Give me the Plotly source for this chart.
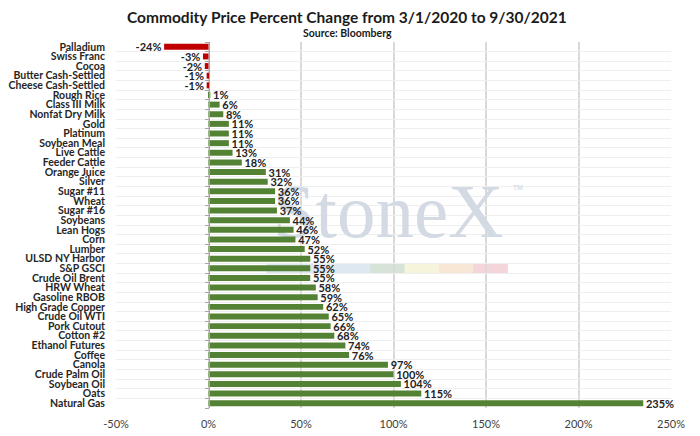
import plotly.graph_objects as go

# Percent change 3/1/2020 -> 9/30/2021, top to bottom as in the chart
commodities = [
    "Palladium", "Swiss Franc", "Cocoa", "Butter Cash-Settled", "Cheese Cash-Settled",
    "Rough Rice", "Class III Milk", "Nonfat Dry Milk", "Gold", "Platinum",
    "Soybean Meal", "Live Cattle", "Feeder Cattle", "Orange Juice", "Silver",
    "Sugar #11", "Wheat", "Sugar #16", "Soybeans", "Lean Hogs", "Corn", "Lumber",
    "ULSD NY Harbor", "S&P GSCI", "Crude Oil Brent", "HRW Wheat", "Gasoline RBOB",
    "High Grade Copper", "Crude Oil WTI", "Pork Cutout", "Cotton #2",
    "Ethanol Futures", "Coffee", "Canola", "Crude Palm Oil", "Soybean Oil",
    "Oats", "Natural Gas",
]
pct_change = [
    -24, -3, -2, -1, -1,
    1, 6, 8, 11, 11,
    11, 13, 18, 31, 32,
    36, 36, 37, 44, 46, 47, 52,
    55, 55, 55, 58, 59,
    62, 65, 66, 68,
    74, 76, 97, 100, 104,
    115, 235,
]
x_ticks = [-50, 0, 50, 100, 150, 200, 250]
x_tick_labels = ["-50%", "0%", "50%", "100%", "150%", "200%", "250%"]

GREEN = "#548235"
RED = "#c00000"
FONT = "Lato"

colors = [RED if v < 0 else GREEN for v in pct_change]
labels = [f"{v}% " if v < 0 else f" {v}%" for v in pct_change]
n = len(commodities)

fig = go.Figure()

# watermark lives on the base (hidden) subplot so the bars draw over it
fig.add_trace(go.Scatter(
    x=[0.4905], y=[0.519], mode="text", text=["StoneX"],
    textfont=dict(family="Liberation Serif", size=77, color="#d3dae3"),
    hoverinfo="skip", showlegend=False,
))
fig.add_trace(go.Scatter(
    x=[0.724], y=[0.601], mode="text", text=["TM"],
    textfont=dict(family="Liberation Sans", size=7, color="#c9d1dc"),
    hoverinfo="skip", showlegend=False,
))

fig.add_trace(go.Bar(
    x=pct_change, y=commodities, orientation="h", xaxis="x2", yaxis="y2",
    marker=dict(color=colors, line=dict(width=0)),
    text=labels, textposition="outside", constraintext="none", cliponaxis=False,
    textfont=dict(family=FONT, size=11, color="#222222", weight="bold"),
    hoverinfo="skip",
))
# invisible trace to carry the axis drawn at 0
fig.add_trace(go.Scatter(
    x=pct_change, y=commodities, xaxis="x2", yaxis="y3", mode="markers",
    marker=dict(opacity=0), hoverinfo="skip", showlegend=False,
))

# the page body adds 8px on the top and left, so the figure is 8px smaller
fig.update_layout(
    width=692, height=428,
    margin=dict(l=108, r=29, t=34, b=28),
    plot_bgcolor="white", paper_bgcolor="white",
    showlegend=False, bargap=0.38,
    font=dict(family=FONT, color="#404040"),
    xaxis=dict(range=[0, 1], visible=False, showgrid=False, zeroline=False),
    yaxis=dict(range=[0, 1], visible=False, showgrid=False, zeroline=False),
    xaxis2=dict(
        overlaying="x", anchor="y2", side="bottom",
        range=[-50, 250], tickvals=x_ticks, ticktext=x_tick_labels,
        showgrid=True, gridcolor="#d9d9d9", gridwidth=1.5,
        zeroline=False, showline=False, ticks="", automargin=False,
        tickfont=dict(size=11, color="#404040"), ticklabelstandoff=8,
    ),
    yaxis2=dict(
        overlaying="y", anchor="x2", side="left",
        type="category", range=[n - 0.5, -0.5], automargin=False,
        tickmode="array", tickvals=commodities, ticktext=commodities,
        showgrid=True, gridcolor="#efefef", gridwidth=1, tickson="boundaries",
        ticks="", showline=False, ticklabelstandoff=10,
        tickfont=dict(size=10.5, color="#262626", weight="bold"),
    ),
    yaxis3=dict(
        type="category", range=[n - 0.5, -0.5], overlaying="y", automargin=False,
        anchor="free", position=(0 + 50) / 300, side="left",
        showline=True, linecolor="#a6a6a6", linewidth=1,
        ticks="outside", ticklen=4, tickcolor="#a6a6a6", tickson="boundaries",
        tickmode="array", tickvals=commodities,
        showticklabels=False, showgrid=False,
    ),
)

# title and source
fig.add_annotation(
    text="Commodity Price Percent Change from 3/1/2020 to 9/30/2021",
    xref="paper", yref="paper", x=0.4166, y=1.068, yanchor="middle", showarrow=False,
    font=dict(family=FONT, size=15.5, color="#1a1a1a", weight="bold"),
)
fig.add_annotation(
    text="Source: Bloomberg", xref="paper", yref="paper", x=0.4166, y=1.0246,
    yanchor="middle", showarrow=False,
    font=dict(family=FONT, size=10.5, color="#1a1a1a", weight="bold"),
)

strip = [
    (0.2714, 0.4571, "#dde8f1"), (0.4571, 0.5203, "#d6e3d6"),
    (0.5203, 0.5816, "#f6f4da"), (0.5816, 0.6429, "#f8e7d4"),
    (0.6429, 0.7060, "#f3d5da"),
]
for x0, x1, c in strip:
    fig.add_shape(type="rect", xref="paper", yref="paper", x0=x0, x1=x1,
                  y0=0.369, y1=0.396, fillcolor=c, line=dict(width=0), layer="below")

# right frame line of the chart box
fig.add_shape(type="line", xref="paper", yref="paper", x0=1.0414, x1=1.0414,
              y0=-0.1, y1=1.2, line=dict(color="#d0d0d0", width=1))

fig.write_html("out.html")
